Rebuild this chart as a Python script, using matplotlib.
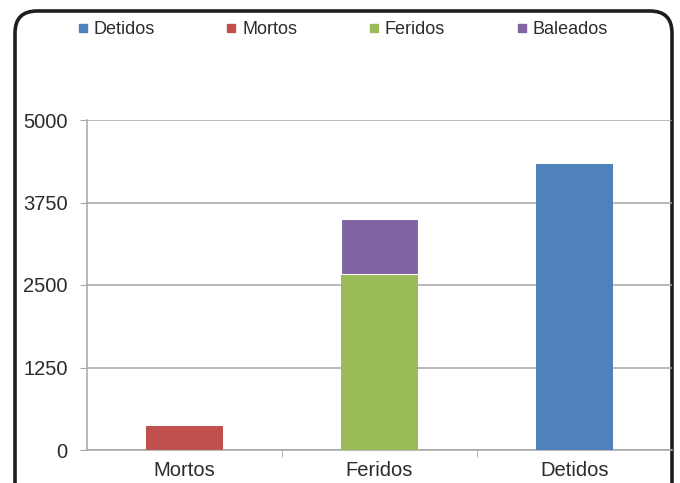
import matplotlib
matplotlib.use('Agg')
import matplotlib.pyplot as plt
from matplotlib.patches import FancyBboxPatch
from matplotlib.lines import Line2D
import numpy as np

# categories on the x axis and one series per legend entry
categories = ['Mortos', 'Feridos', 'Detidos']
detidos = [0, 0, 4340]
mortos = [370, 0, 0]
feridos = [0, 2670, 0]
baleados = [0, 830, 0]
yticks = [0, 1250, 2500, 3750, 5000]

series_names = ['Detidos', 'Mortos', 'Feridos', 'Baleados']
colors = ['#4F81BD', '#C0504D', '#9BBB59', '#8064A2']

plt.rcParams['font.family'] = ['Liberation Sans', 'DejaVu Sans']
txt = '#2b2b2b'
grid = '#a6a6a6'

fig = plt.figure(figsize=(6.8, 4.83), dpi=100)

# rounded panel behind the chart (bottom edge runs off the picture)
panel = FancyBboxPatch((0.15, -0.4), 6.57, 5.12,
                       boxstyle='round,pad=0,rounding_size=0.22',
                       transform=fig.dpi_scale_trans,
                       facecolor='white', edgecolor='#1e1e1e', linewidth=2.6,
                       zorder=-5)
fig.patches.append(panel)

ax = fig.add_axes([87/680, 1-450/483, 585/680, 330/483])
ax.set_facecolor('none')
ax.set_zorder(2)

x = np.arange(len(categories))
w = 0.39
ax.bar(x, mortos, w, color=colors[1], zorder=3)
ax.bar(x, feridos, w, color=colors[2], zorder=3)
ax.bar(x, baleados, w, bottom=feridos, color=colors[3], zorder=3,
       edgecolor='white', linewidth=0.8)
ax.bar(x, detidos, w, color=colors[0], zorder=3)

ax.set_xlim(-0.5, 2.5)
ax.set_ylim(0, 5000)
ax.set_yticks(yticks)
ax.set_yticklabels([str(t) for t in yticks], fontsize=14.5, color=txt)
ax.set_xticks(x)
ax.set_xticklabels(categories, fontsize=14.5, color=txt)
ax.set_xticks([0.5, 1.5], minor=True)

ax.tick_params(axis='y', length=5, color=grid, pad=9)
ax.tick_params(axis='x', which='major', length=0, pad=8)
ax.tick_params(axis='x', which='minor', length=5, color=grid)

ax.yaxis.grid(True, color=grid, linewidth=1.1, zorder=1)
ax.set_axisbelow(True)
for s in ['top', 'right']:
    ax.spines[s].set_visible(False)
for s in ['left', 'bottom']:
    ax.spines[s].set_color(grid)
    ax.spines[s].set_linewidth(1.1)

handles = [Line2D([], [], marker='s', linestyle='none', markersize=6,
                  markerfacecolor=c, markeredgecolor=c) for c in colors]
leg = fig.legend(handles, series_names, loc='upper left',
                 bbox_to_anchor=(61/680, 1-5/483),
                 ncol=4, frameon=False, fontsize=13, handlelength=0.6,
                 handletextpad=0.3, columnspacing=3.95, labelcolor=txt)
leg.set_zorder(3)

fig.savefig('out.png', dpi=100, facecolor='white')
